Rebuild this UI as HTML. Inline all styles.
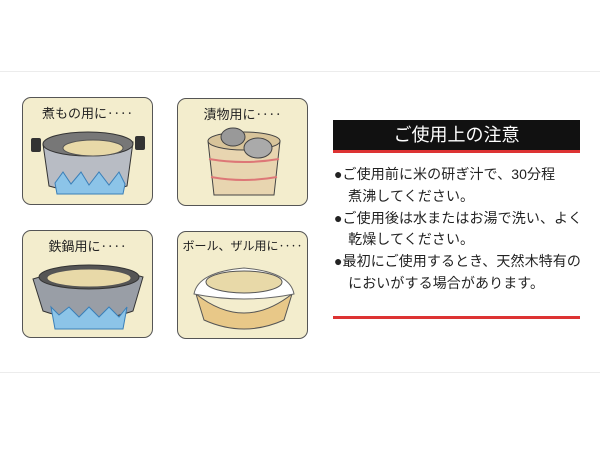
<!DOCTYPE html>
<html><head><meta charset="utf-8"><style>
body{margin:0;width:600px;height:450px;background:#fff;position:relative;overflow:hidden;font-family:"Liberation Sans","Noto Sans CJK JP",sans-serif}
.hl{position:absolute;left:0;width:600px;height:1px;background:#ececec}
.p{position:absolute;width:131px;height:108px;background:#f3edcd;border:1.5px solid #555;border-radius:9px;box-sizing:border-box}
.p .t{position:absolute;top:5px;left:0;right:0;text-align:center;font-size:13px;color:#222;white-space:nowrap}
.p svg{position:absolute;left:0;top:0}
.hd{position:absolute;left:333px;top:120px;width:247px;height:30px;background:#111;border-bottom:3px solid #d33;color:#fff;font-size:18px;text-align:center;line-height:30px}
.tx{position:absolute;left:334px;top:164px;width:266px;font-size:14px;color:#222;line-height:21.8px;white-space:nowrap;letter-spacing:0.1px}
.rl{position:absolute;left:333px;top:316px;width:247px;height:3px;background:#d33}
</style></head><body>
<div class="hl" style="top:71px"></div><div class="hl" style="top:372px"></div>

<div class="p" style="left:22px;top:97px"><div class="t">煮もの用に‥‥</div>
<svg width="131" height="108"><rect x="8" y="40" width="10" height="14" rx="2" fill="#333"/><rect x="112" y="38" width="10" height="14" rx="2" fill="#333"/>
<path d="M20 46 Q65 30 110 44 L104 88 Q65 100 26 88Z" fill="#b8bcc4" stroke="#333"/>
<ellipse cx="65" cy="46" rx="45" ry="12" fill="#777" stroke="#333"/>
<ellipse cx="70" cy="50" rx="30" ry="8" fill="#e8d9a8" stroke="#555"/>
<path d="M32 85 L40 74 L48 86 L58 74 L66 87 L76 74 L86 87 L96 74 L102 86 L100 96 L34 96Z" fill="#8cc4e8" stroke="#3a7fb8"/></svg></div>

<div class="p" style="left:177px;top:98px"><div class="t">漬物用に‥‥</div>
<svg width="131" height="108"><path d="M30 42 L102 42 L96 96 L36 96Z" fill="#e8d5b0" stroke="#444"/>
<ellipse cx="66" cy="42" rx="36" ry="9" fill="#d8c49a" stroke="#444"/>
<ellipse cx="55" cy="38" rx="12" ry="9" fill="#999" stroke="#444"/><ellipse cx="80" cy="49" rx="14" ry="10" fill="#aaa" stroke="#444"/>
<path d="M31 60 Q66 66 101 60 M33 78 Q66 84 99 78" stroke="#d77" stroke-width="2" fill="none"/></svg></div>

<div class="p" style="left:22px;top:230px"><div class="t">鉄鍋用に‥‥</div>
<svg width="131" height="108"><path d="M10 48 Q66 30 120 46 L110 80 Q66 96 20 80Z" fill="#999ea6" stroke="#333"/>
<ellipse cx="66" cy="46" rx="50" ry="12" fill="#555" stroke="#333"/>
<ellipse cx="66" cy="47" rx="42" ry="9" fill="#e8d9a8" stroke="#555"/>
<path d="M28 76 L36 84 L46 76 L56 86 L66 76 L76 86 L86 76 L96 86 L104 76 L100 98 L32 98Z" fill="#8cc4e8" stroke="#3a7fb8"/></svg></div>

<div class="p" style="left:177px;top:231px"><div class="t" style="font-size:12px">ボール、ザル用に‥‥</div>
<svg width="131" height="108"><path d="M18 62 Q66 100 114 62 L106 88 Q66 106 26 88Z" fill="#e8c888" stroke="#555"/>
<path d="M16 62 Q20 40 66 36 Q112 40 116 62 Q66 72 16 62Z" fill="#fff" stroke="#666"/>
<ellipse cx="66" cy="50" rx="38" ry="11" fill="#e8d9a8" stroke="#555"/></svg></div>

<div class="hd">ご使用上の注意</div>
<div class="tx">
●ご使用前に米の研ぎ汁で、30分程<br>&#x3000;煮沸してください。<br>
●ご使用後は水またはお湯で洗い、よく<br>&#x3000;乾燥してください。<br>
●最初にご使用するとき、天然木特有の<br>&#x3000;においがする場合があります。
</div>
<div class="rl"></div>
</body></html>
